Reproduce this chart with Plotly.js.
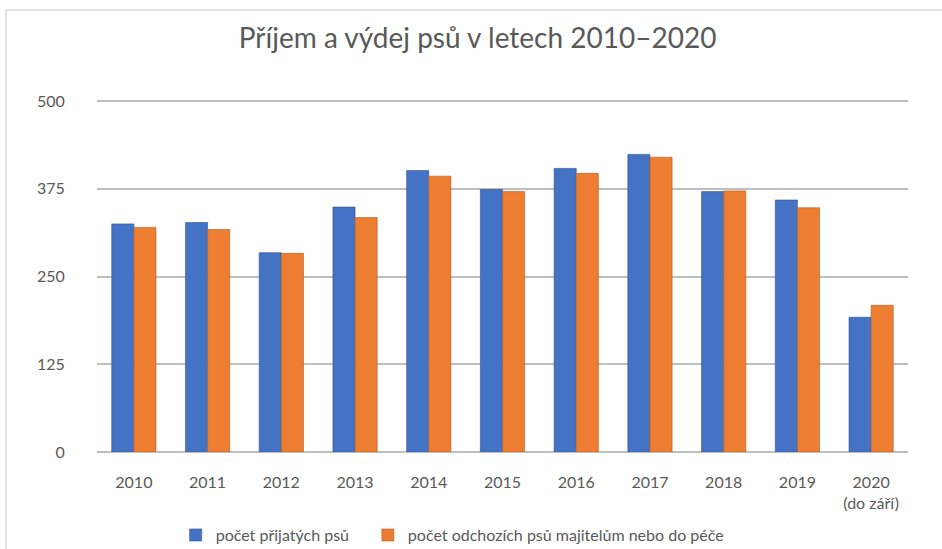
<!DOCTYPE html>
<html>
<head>
<meta charset="utf-8">
<script src="https://cdn.plot.ly/plotly-3.0.1.min.js"></script>
<style>
  html, body { margin: 0; padding: 0; background: #fff; }
  #chart { width: 942px; height: 549px; }
  #frame { position: absolute; left: 5px; top: 9px; width: 960px; height: 560px;
           border-left: 2px solid #e4e4e4; border-top: 2px solid #e4e4e4; pointer-events: none; }
</style>
</head>
<body>
<div id="chart"></div>
<div id="frame"></div>
<script>
const years = ["2010", "2011", "2012", "2013", "2014", "2015", "2016", "2017", "2018", "2019", "2020<br>(do září)"];
const prijate = [325, 327, 284, 349, 401, 374, 404, 424, 371, 359, 192];
const odchozi = [320, 317, 283, 334, 393, 371, 397, 420, 372, 348, 209];
const seriesNames = ["počet přijatých psů", "počet odchozích psů majitelům nebo do péče"];
const yTicks = [0, 125, 250, 375, 500];

const font = "Lato, 'Open Sans', sans-serif";
const grey = "#595959";

const traces = [
  { type: "bar", name: seriesNames[0], x: years, y: prijate, legend: "legend",
    marker: { color: "#4472C4", line: { color: "#2f528f", width: 0.6 } } },
  { type: "bar", name: seriesNames[1], x: years, y: odchozi, legend: "legend2",
    marker: { color: "#ED7D31", line: { color: "#ae5a21", width: 0.6 } } }
];

const legendFont = { family: font, size: 16, color: grey };

const layout = {
  width: 942, height: 549,
  margin: { l: 97, r: 34, t: 100, b: 97, autoexpand: false },
  paper_bgcolor: "#fff", plot_bgcolor: "#fff",
  title: { text: "Příjem a výdej psů v letech 2010–2020", x: 0.507, xanchor: "center",
           y: 1 - 38 / 549, yanchor: "middle", yref: "container",
           font: { family: font, size: 28, color: grey } },
  barmode: "group", bargap: 0.4, bargroupgap: 0,
  showlegend: true,
  legend: { orientation: "h", x: 0.097, xanchor: "left", y: -0.236, yanchor: "middle",
            font: legendFont, itemwidth: 30 },
  legend2: { orientation: "h", x: 0.334, xanchor: "left", y: -0.236, yanchor: "middle",
             font: legendFont, itemwidth: 30 },
  xaxis: { type: "category", showgrid: false, zeroline: false, showline: false,
           ticks: "outside", ticklen: 16, tickcolor: "rgba(0,0,0,0)",
           tickfont: { family: font, size: 16, color: grey } },
  yaxis: { range: [0, 501.5], tickvals: yTicks, ticktext: yTicks.map(String),
           showgrid: true, gridcolor: "#bfbfbf", gridwidth: 2,
           zeroline: true, zerolinecolor: "#bfbfbf", zerolinewidth: 2, showline: false,
           ticks: "outside", ticklen: 28, tickcolor: "rgba(0,0,0,0)",
           tickfont: { family: font, size: 16, color: grey } },
  font: { family: font, color: grey }
};

Plotly.newPlot("chart", traces, layout, { displayModeBar: false, staticPlot: true });
</script>
</body>
</html>
